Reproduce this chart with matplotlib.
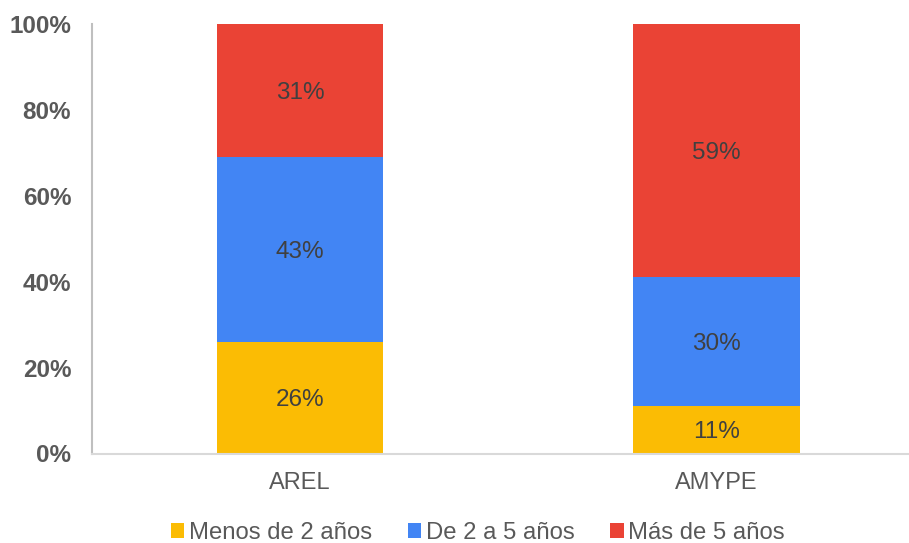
import matplotlib.pyplot as plt
import numpy as np

plt.rcParams['font.family'] = ['Liberation Sans', 'DejaVu Sans']

categories = ['AREL', 'AMYPE']
series_names = ['Menos de 2 años', 'De 2 a 5 años', 'Más de 5 años']
menos_2 = [26, 11]
de_2_a_5 = [43, 30]
mas_5 = [31, 59]
colors = ['#FBBC04', '#4285F4', '#EA4335']

W, H = 909, 543
fig = plt.figure(figsize=(W / 100, H / 100), dpi=100)
ax = fig.add_axes([92 / W, 1 - 453.5 / H, (908 - 92) / W, (453.5 - 24) / H])

x = np.arange(len(categories))
bottom = np.zeros(len(categories))
for vals, name, col in zip([menos_2, de_2_a_5, mas_5], series_names, colors):
    vals = np.array(vals, dtype=float)
    ax.bar(x, vals, 0.4, bottom=bottom, color=col, label=name, zorder=2)
    for xi, v, bt in zip(x, vals, bottom):
        ax.text(xi, bt + v / 2, f'{v:.0f}%', ha='center', va='center_baseline',
                fontsize=17.5, color='#404040')
    bottom += vals

ax.set_xlim(-0.5, 1.46)
ax.set_ylim(0, 100)
ax.set_yticks(range(0, 101, 20))
ax.set_yticklabels([f'{t}%' for t in range(0, 101, 20)], fontsize=17.5,
                   fontweight='bold', color='#595959')
ax.set_xticks(x)
ax.set_xticklabels(categories, fontsize=17, color='#595959')
ax.tick_params(axis='both', length=0)
ax.tick_params(axis='y', pad=15)
ax.tick_params(axis='x', pad=13)

for s in ['top', 'right']:
    ax.spines[s].set_visible(False)
ax.spines['left'].set_color('#BFBFBF')
ax.spines['left'].set_linewidth(1.5)
ax.spines['bottom'].set_color('#D9D9D9')
ax.spines['bottom'].set_linewidth(1.5)

fig.legend(loc='center', bbox_to_anchor=(478 / W, 1 - 533 / H), ncol=3,
           frameon=False, fontsize=17.2, handlelength=0.55, handleheight=0.55,
           handletextpad=0.2, columnspacing=1.5, labelcolor='#595959')

fig.savefig('out.png', dpi=100)
